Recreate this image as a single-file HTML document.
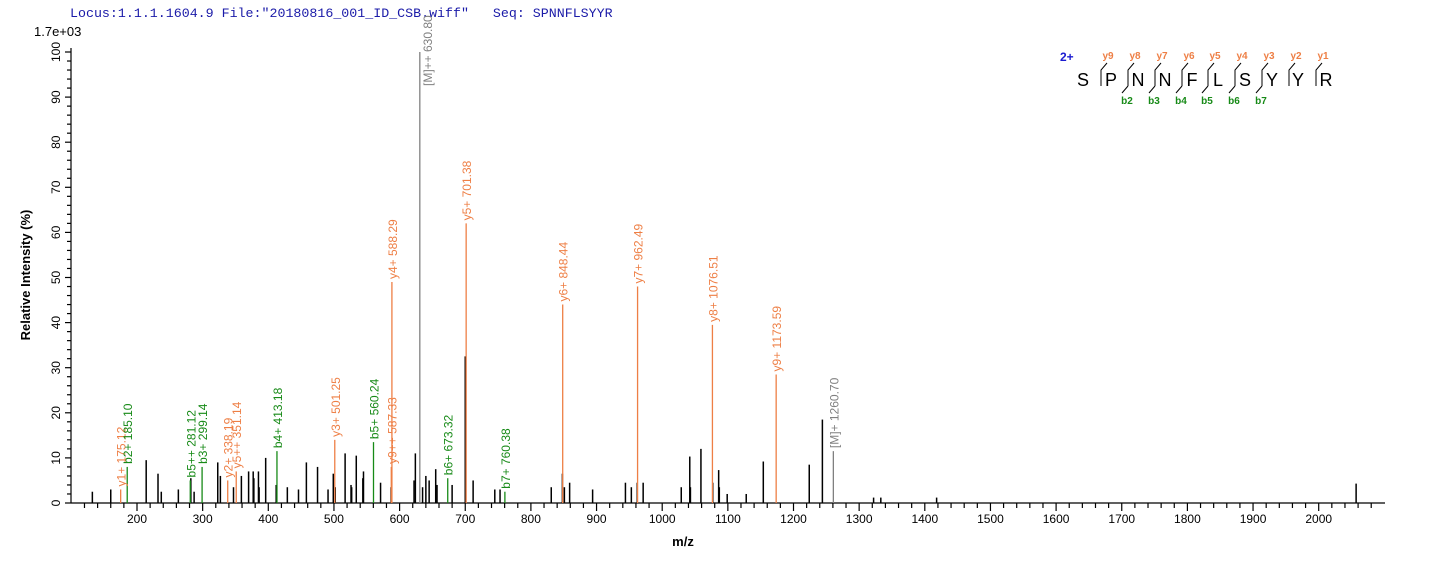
<!DOCTYPE html>
<html><head><meta charset="utf-8"><style>
body{margin:0;background:#fff;}
svg text{font-family:"Liberation Sans",Arial,sans-serif;}
svg text.mono{font-family:"Liberation Mono",monospace;white-space:pre;}
</style></head><body>
<svg width="1436" height="562" xmlns="http://www.w3.org/2000/svg">
<rect width="1436" height="562" fill="#fff"/>
<text class="mono" x="70" y="17" font-size="13.3" fill="#1a1aa8" xml:space="preserve">Locus:1.1.1.1604.9 File:"20180816_001_ID_CSB.wiff"   Seq: SPNNFLSYYR</text>
<text x="34" y="36" font-size="13" fill="#000">1.7e+03</text>
<g id="ax" stroke="#000" stroke-width="1.2"></g>
<g id="pk"></g>
<g id="lb"></g>
<text transform="translate(30,275) rotate(-90)" text-anchor="middle" font-size="13" font-weight="bold">Relative   Intensity (%)</text>
<text x="683" y="546" text-anchor="middle" font-size="13" font-weight="bold">m/z</text>
<g id="seq"></g>
<script>
var NS="http://www.w3.org/2000/svg";
function el(p,t,a,txt){var e=document.createElementNS(NS,t);for(var k in a)e.setAttribute(k,a[k]);if(txt!==undefined)e.textContent=txt;document.getElementById(p).appendChild(e);return e;}
function X(m){return 137+(m-200)*0.6565;}
function Y(v){return 503-v*4.51;}
el("ax","line",{x1:71,y1:503,x2:1385,y2:503});
el("ax","line",{x1:71,y1:48,x2:71,y2:503});
for(var m=100;m<=2080;m+=20){var x=X(m);if(x<72)continue;var maj=(m%100==0);el("ax","line",{x1:x,y1:503,x2:x,y2:maj?511:508});if(maj)el("lb","text",{x:x,y:523,"text-anchor":"middle","font-size":"12"},m);}
for(var v=0;v<=100;v+=2){var y=Y(v);var maj=(v%10==0);el("ax","line",{x1:maj?65:67,y1:y,x2:71,y2:y});if(maj)el("lb","text",{transform:"translate(60,"+y+") rotate(-90)","text-anchor":"middle","font-size":"12"},v);}
var bk=[[132,2.5],[160,3],[214,9.5],[232,6.5],[237,2.5],[263,3],[282,5.5],[287,2.5],[323,9],[327,6],[347,3.5],[359,6],[370,7],[377,7],[378,5.5],[385,7],[386,3.5],[396,10],[412,4],[429,3.5],[446,3],[458,9],[475,8],[491,3],[499,6.5],[502,3.5],[517,11],[526,4],[527,3.5],[534,10.5],[544,5.5],[545,7],[571,4.5],[587,3.5],[622,5],[624,11],[635,3.5],[640,6],[645,5],[655,7.5],[657,4],[680,4],[700,32.5],[712,5],[745,3],[753,3],[831,3.5],[848,6.5],[851,3.5],[859,4.5],[894,3],[944,4.5],[953,3.5],[962,4.5],[971,4.5],[1029,3.5],[1042,10.3],[1043,3.5],[1059,12],[1077,4.5],[1086,7.3],[1087,3.5],[1099,2],[1128,2],[1154,9.2],[1224,8.5],[1244,18.5],[1322,1.2],[1333,1.2],[1418,1.2],[2057,4.3]];
bk.forEach(function(p){el("pk","line",{x1:X(p[0]),y1:503,x2:X(p[0]),y2:Y(p[1]),stroke:"#000","stroke-width":1.5});});
var OR="#ee7f45",GR="#178a17",GY="#808080";
var lab=[[630.80,100,GY,"[M]++ 630.80",86],[1260.70,11.5,GY,"[M]+ 1260.70"],
[175.12,3,OR,"y1+ 175.12"],[338.19,5,OR,"y2+ 338.19"],[351.14,7,OR,"y5++ 351.14"],[501.25,14,OR,"y3+ 501.25"],[587.33,8,OR,"y9++ 587.33"],[588.29,49,OR,"y4+ 588.29"],[701.38,62,OR,"y5+ 701.38"],[848.44,44,OR,"y6+ 848.44"],[962.49,48,OR,"y7+ 962.49"],[1076.51,39.5,OR,"y8+ 1076.51"],[1173.59,28.5,OR,"y9+ 1173.59"],
[185.10,8,GR,"b2+ 185.10"],[281.12,5,GR,"b5++ 281.12"],[299.14,8,GR,"b3+ 299.14"],[413.18,11.5,GR,"b4+ 413.18"],[560.24,13.5,GR,"b5+ 560.24"],[673.32,5.5,GR,"b6+ 673.32"],[760.38,2.5,GR,"b7+ 760.38"]];
lab.forEach(function(p){var x=X(p[0]),y=Y(p[1]);el("pk","line",{x1:x,y1:503,x2:x,y2:y,stroke:p[2],"stroke-width":1.3});var ty=p[4]||(y-3);var tx=p[4]?x+12:x+5;el("lb","text",{transform:"translate("+tx+","+ty+") rotate(-90)","font-size":"12",fill:p[2]},p[3]);});
var L="SPNNFLSYYR".split(""),lx=[1083,1111,1138,1165,1192,1218,1245,1272,1298,1326];
L.forEach(function(c,i){el("seq","text",{x:lx[i],y:86,"text-anchor":"middle","font-size":"18",fill:"#000"},c);});
el("seq","text",{x:1060,y:61,"font-size":"12","font-weight":"bold",fill:"#1a1ad0"},"2+");
var sx=[1101,1128,1155,1182,1208,1235,1262,1289,1316];
sx.forEach(function(x,i){el("seq","path",{d:"M"+(x+6)+" 63 L"+x+" 70 V86",stroke:"#000","stroke-width":1,fill:"none"});el("seq","text",{x:x+7,y:59,"text-anchor":"middle","font-size":"10","font-weight":"bold",fill:OR},"y"+(9-i));
if(i>=1&&i<=6){el("seq","path",{d:"M"+x+" 86 L"+(x-6)+" 93",stroke:"#000","stroke-width":1,fill:"none"});el("seq","text",{x:x-1,y:104,"text-anchor":"middle","font-size":"10","font-weight":"bold",fill:GR},"b"+(i+1));}});
</script>
</svg>
</body></html>
